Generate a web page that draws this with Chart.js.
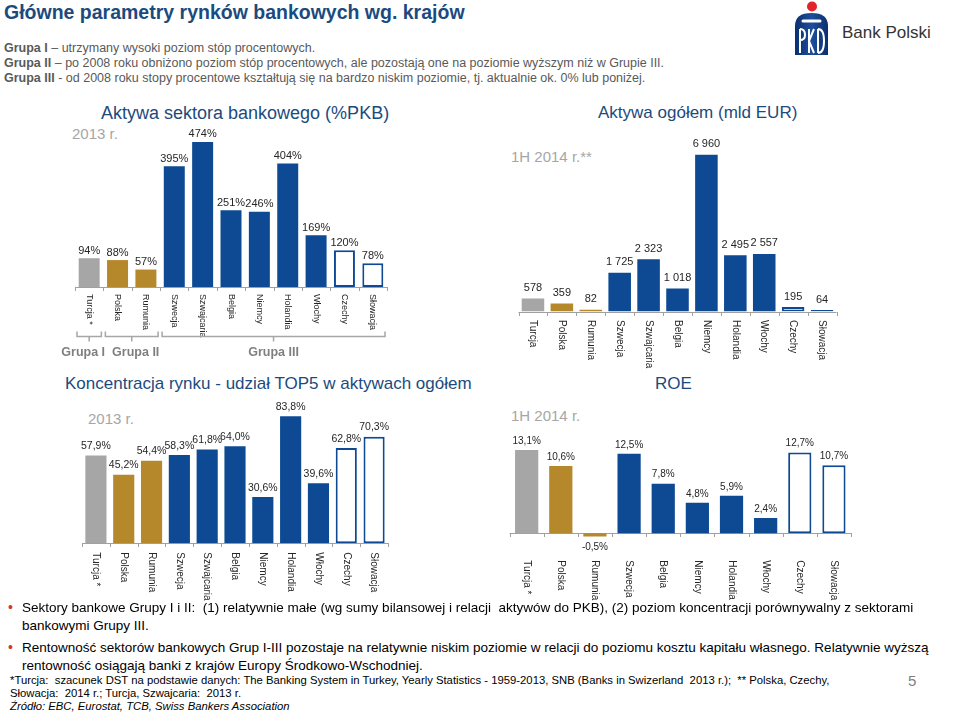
<!DOCTYPE html>
<html lang="pl">
<head>
<meta charset="utf-8">
<script src="https://cdn.jsdelivr.net/npm/chart.js@4.4.1/dist/chart.umd.min.js"></script>
<style>
  body { margin: 0; background: #fff; }
  #slide { position: relative; width: 960px; height: 714px; overflow: hidden; font-family: "Liberation Sans", Arial, sans-serif; }
  .t { position: absolute; white-space: pre; line-height: 1; }
  canvas { position: absolute; }
  .ttl { color: #1B4B7E; font-size: 17px; }
  .yr { color: #A6A6A6; font-size: 15px; }
  .grp { color: #595959; font-size: 12.5px; }
  .grp b { color: #595959; }
  .bul { color: #000; font-size: 13.5px; }
  .dot { color: #E0302A; font-size: 14px; }
  .fn { color: #000; font-size: 11.3px; }
</style>
</head>
<body>
<div id="slide">
  <div class="t" style="left:4px;top:3px;font-size:19.5px;font-weight:bold;color:#1B4B7E;">Główne parametry rynków bankowych wg. krajów</div>
  <div class="t grp" style="left:4px;top:42px;"><b>Grupa I</b> – utrzymany wysoki poziom stóp procentowych.</div>
  <div class="t grp" style="left:4px;top:57px;"><b>Grupa II</b> – po 2008 roku obniżono poziom stóp procentowych, ale pozostają one na poziomie wyższym niż w Grupie III.</div>
  <div class="t grp" style="left:4px;top:72px;"><b>Grupa III</b> - od 2008 roku stopy procentowe kształtują się na bardzo niskim poziomie, tj. aktualnie ok. 0% lub poniżej.</div>

  <svg style="position:absolute;left:790px;top:0px;" width="45" height="58" viewBox="0 0 45 58">
    <defs>
      <linearGradient id="g" x1="0" y1="0" x2="1" y2="0">
        <stop offset="0" stop-color="#0A2F6E"/><stop offset="0.5" stop-color="#1D4F9C"/><stop offset="1" stop-color="#0A2F6E"/>
      </linearGradient>
    </defs>
    <circle cx="22" cy="6.5" r="5" fill="#E3232C"/>
    <path d="M5 26 Q5 13 21.5 13 Q38 13 38 26 L38 55 L5 55 Z" fill="url(#g)"/>
    <line x1="13" y1="21" x2="30" y2="21" stroke="#fff" stroke-width="3" stroke-linecap="round"/>
    <path d="M10 29 L10 53 M10 29 Q15 29 15 35 Q15 40 10 40" stroke="#fff" stroke-width="2" fill="none"/>
    <path d="M19 29 L19 53 M19 41 L24 29 M19 41 L24 53" stroke="#fff" stroke-width="2" fill="none"/>
    <path d="M28 29 L28 53 M28 29 Q34 29 34 41 Q34 53 28 53" stroke="#fff" stroke-width="2" fill="none"/>
  </svg>
  <div class="t" style="left:842px;top:24px;font-size:17px;color:#333;">Bank Polski</div>

  <div class="t ttl" style="left:101px;top:104px;font-size:18px;">Aktywa sektora bankowego (%PKB)</div>
  <div class="t yr" style="left:72px;top:126px;">2013 r.</div>
  <div class="t ttl" style="left:598px;top:104px;">Aktywa ogółem (mld EUR)</div>
  <div class="t yr" style="left:511px;top:149px;">1H 2014 r.**</div>
  <div class="t ttl" style="left:65px;top:375px;">Koncentracja rynku - udział TOP5 w aktywach ogółem</div>
  <div class="t yr" style="left:88px;top:411px;">2013 r.</div>
  <div class="t ttl" style="left:655px;top:375px;">ROE</div>
  <div class="t yr" style="left:511px;top:408px;">1H 2014 r.</div>

  <canvas id="c1" width="340" height="250" style="left:60px;top:125px;"></canvas>
  <canvas id="c2" width="360" height="260" style="left:500px;top:125px;"></canvas>
  <canvas id="c3" width="340" height="210" style="left:60px;top:395px;"></canvas>
  <canvas id="c4" width="360" height="205" style="left:500px;top:400px;"></canvas>

  <div class="t dot" style="left:8px;top:600px;">•</div>
  <div class="t bul" style="left:22px;top:601px;">Sektory bankowe Grupy I i II:  (1) relatywnie małe (wg sumy bilansowej i relacji  aktywów do PKB), (2) poziom koncentracji porównywalny z sektorami</div>
  <div class="t bul" style="left:22px;top:619px;">bankowymi Grupy III.</div>
  <div class="t dot" style="left:8px;top:640px;">•</div>
  <div class="t bul" style="left:22px;top:641px;">Rentowność sektorów bankowych Grup I-III pozostaje na relatywnie niskim poziomie w relacji do poziomu kosztu kapitału własnego. Relatywnie wyższą</div>
  <div class="t bul" style="left:22px;top:659px;">rentowność osiągają banki z krajów Europy Środkowo-Wschodniej.</div>
  <div class="t fn" style="left:10px;top:675px;">*Turcja:  szacunek DST na podstawie danych: The Banking System in Turkey, Yearly Statistics - 1959-2013, SNB (Banks in Swizerland  2013 r.);  ** Polska, Czechy,</div>
  <div class="t fn" style="left:10px;top:688px;">Słowacja:  2014 r.; Turcja, Szwajcaria:  2013 r.</div>
  <div class="t fn" style="left:10px;top:701px;font-style:italic;">Źródło: EBC, Eurostat, TCB, Swiss Bankers Association</div>
  <div class="t" style="left:908px;top:673px;font-size:15px;color:#7F7F7F;">5</div>
</div>

<script>
// dane
var krajeAktywa = ['Turcja *', 'Polska', 'Rumunia', 'Szwecja', 'Szwajcaria', 'Belgia', 'Niemcy', 'Holandia', 'Włochy', 'Czechy', 'Słowacja'];
var grupaAktywa = ['I', 'II', 'II', 'III', 'III', 'III', 'III', 'III', 'III', 'IIIb', 'IIIb'];
var aktywaPkb = [94, 88, 57, 395, 474, 251, 246, 404, 169, 120, 78];

var krajeOgolem = ['Turcja', 'Polska', 'Rumunia', 'Szwecja', 'Szwajcaria', 'Belgia', 'Niemcy', 'Holandia', 'Włochy', 'Czechy', 'Słowacja'];
var aktywaMldEur = [578, 359, 82, 1725, 2323, 1018, 6960, 2495, 2557, 195, 64];

var udzialTop5 = [57.9, 45.2, 54.4, 58.3, 61.8, 64.0, 30.6, 83.8, 39.6, 62.8, 70.3];

var krajeRoe = ['Turcja *', 'Polska', 'Rumunia', 'Szwecja', 'Belgia', 'Niemcy', 'Holandia', 'Włochy', 'Czechy', 'Słowacja'];
var grupaRoe = ['I', 'II', 'II', 'III', 'III', 'III', 'III', 'III', 'IIIb', 'IIIb'];
var roe = [13.1, 10.6, -0.5, 12.5, 7.8, 4.8, 5.9, 2.4, 12.7, 10.7];

var nazwyGrup = { 'I': 'Grupa I', 'II': 'Grupa II', 'III': 'Grupa III' };
var przesuniecieNazwy = { 'I': -6, 'II': 4, 'III': 0 };

var BLUE = '#0D4A93';
var fillFor = { 'I': '#A6A6A6', 'II': '#B5882C', 'III': BLUE, 'IIIb': '#FFFFFF' };

var pct0 = function (v) { return v + '%'; };
var pct1 = function (v) { return v.toFixed(1).replace('.', ',') + '%'; };
var spaced = function (v) { return String(v).replace(/\B(?=(\d{3})+(?!\d))/g, ' '); };

var slidePlugin = {
  id: 'slide',
  beforeDatasetsDraw: function (chart, args, o) {
    var ctx = chart.ctx, a = chart.chartArea;
    var y0 = Math.round(chart.scales.y.getPixelForValue(0));
    var n = chart.data.labels.length;
    var step = (a.right - a.left) / n;
    ctx.save();
    ctx.strokeStyle = '#A0A0A0';
    ctx.lineWidth = 1;
    ctx.beginPath();
    ctx.moveTo(a.left, y0 + 0.5);
    ctx.lineTo(a.right, y0 + 0.5);
    for (var i = 0; i <= n; i++) {
      var x = Math.round(a.left + i * step) + 0.5;
      ctx.moveTo(x, y0);
      ctx.lineTo(x, y0 + 4);
    }
    ctx.stroke();
    ctx.restore();
  },
  afterDatasetsDraw: function (chart, args, o) {
    var ctx = chart.ctx, a = chart.chartArea;
    var meta = chart.getDatasetMeta(0);
    var vals = chart.data.datasets[0].data;
    var y0 = chart.scales.y.getPixelForValue(0);
    ctx.save();
    meta.data.forEach(function (bar, i) {
      var v = vals[i];
      ctx.fillStyle = '#262626';
      ctx.font = o.valueFont;
      ctx.textAlign = 'center';
      if (v >= 0) {
        ctx.textBaseline = 'bottom';
        ctx.fillText(o.fmt(v), bar.x, bar.y - o.valueGap);
      } else {
        ctx.textBaseline = 'top';
        ctx.fillText(o.fmt(v), bar.x, bar.y + o.valueGap + 2);
      }
      ctx.save();
      ctx.translate(bar.x, y0 + o.catOffset);
      ctx.rotate(Math.PI / 2);
      ctx.font = o.catFont;
      ctx.textAlign = 'left';
      ctx.textBaseline = 'middle';
      ctx.fillStyle = '#262626';
      ctx.fillText(chart.data.labels[i], 0, 0);
      ctx.restore();
    });

    if (o.groups) {
      var n = chart.data.labels.length;
      var step = (a.right - a.left) / n;
      var spans = [];
      o.groups.forEach(function (g, i) {
        var key = g.replace('b', '');
        var last = spans[spans.length - 1];
        if (last && last.key === key) last.to = i;
        else spans.push({ key: key, from: i, to: i });
      });
      var yb = Math.round(y0 + 49) + 0.5;
      ctx.strokeStyle = '#A6A6A6';
      ctx.lineWidth = 1.5;
      spans.forEach(function (s) {
        var x1 = a.left + s.from * step + 2;
        var x2 = a.left + (s.to + 1) * step - 2;
        var xc = (x1 + x2) / 2;
        ctx.beginPath();
        ctx.moveTo(x1, yb - 5);
        ctx.lineTo(x1, yb);
        ctx.lineTo(x2, yb);
        ctx.lineTo(x2, yb - 5);
        ctx.moveTo(xc, yb);
        ctx.lineTo(xc, yb + 5);
        ctx.stroke();
        ctx.fillStyle = '#7F7F7F';
        ctx.font = 'bold 12.5px "Liberation Sans", Arial, sans-serif';
        ctx.textAlign = 'center';
        ctx.textBaseline = 'middle';
        ctx.fillText(nazwyGrup[s.key], xc + przesuniecieNazwy[s.key], y0 + 66);
      });
    }
    ctx.restore();
  }
};

function makeChart(id, labels, values, groups, cfg) {
  return new Chart(document.getElementById(id), {
    type: 'bar',
    data: {
      labels: labels,
      datasets: [{
        data: values,
        backgroundColor: groups.map(function (g) { return fillFor[g]; }),
        borderColor: BLUE,
        borderWidth: groups.map(function (g) { return g === 'IIIb' ? 2 : 0; }),
        borderSkipped: false,
        categoryPercentage: 1,
        barPercentage: cfg.barPct
      }]
    },
    options: {
      responsive: false,
      animation: false,
      layout: { padding: cfg.padding },
      scales: {
        x: { display: false },
        y: { display: false, min: cfg.min, max: cfg.max }
      },
      plugins: {
        legend: { display: false },
        tooltip: { enabled: false },
        slide: {
          fmt: cfg.fmt,
          valueFont: cfg.valueFont,
          valueGap: cfg.valueGap,
          catFont: cfg.catFont,
          catOffset: cfg.catOffset,
          groups: cfg.brackets ? groups : null
        }
      }
    },
    plugins: [slidePlugin]
  });
}

makeChart('c1', krajeAktywa, aktywaPkb, grupaAktywa, {
  barPct: 0.74, min: 0, max: 500,
  padding: { left: 15, right: 13, top: 9, bottom: 88 },
  fmt: pct0, valueFont: '11px "Liberation Sans", Arial, sans-serif', valueGap: 2,
  catFont: '9px "Liberation Sans", Arial, sans-serif', catOffset: 7, brackets: true
});

makeChart('c2', krajeOgolem, aktywaMldEur, grupaAktywa, {
  barPct: 0.78, min: 0, max: 7500,
  padding: { left: 18.5, right: 23.5, top: 17.5, bottom: 73.5 },
  fmt: spaced, valueFont: '11px "Liberation Sans", Arial, sans-serif', valueGap: 5,
  catFont: '10px "Liberation Sans", Arial, sans-serif', catOffset: 8.5, brackets: false
});

makeChart('c3', krajeAktywa, udzialTop5, grupaAktywa, {
  barPct: 0.76, min: 0, max: 90,
  padding: { left: 22, right: 12, top: 11.8, bottom: 61.7 },
  fmt: pct1, valueFont: '10.5px "Liberation Sans", Arial, sans-serif', valueGap: 4,
  catFont: '10px "Liberation Sans", Arial, sans-serif', catOffset: 9, brackets: false
});

makeChart('c4', krajeRoe, roe, grupaRoe, {
  barPct: 0.68, min: -1, max: 15,
  padding: { left: 9.6, right: 9, top: 37.9, bottom: 65.3 },
  fmt: pct1, valueFont: '10px "Liberation Sans", Arial, sans-serif', valueGap: 4,
  catFont: '10px "Liberation Sans", Arial, sans-serif', catOffset: 27, brackets: false
});
</script>
</body>
</html>
